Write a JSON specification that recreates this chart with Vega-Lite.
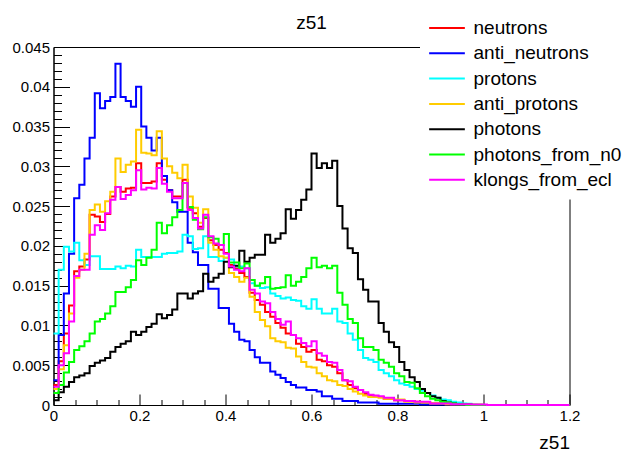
{
  "$schema": "https://vega.github.io/schema/vega-lite/v6.json",
  "width": 516,
  "height": 358,
  "autosize": "none",
  "padding": {"left": 53.5, "top": 47, "right": 58.5, "bottom": 47},
  "config": {
    "font": "Liberation Sans",
    "view": {"stroke": "black", "strokeWidth": 1},
    "axis": {"grid": false, "domainColor": "black", "tickColor": "black", "labelColor": "black", "titleColor": "black", "domainWidth": 1, "tickWidth": 1}
  },
  "title": {"text": "z51", "fontSize": 19, "fontWeight": "normal", "font": "Liberation Sans", "color": "black", "anchor": "middle", "frame": "group", "baseline": "alphabetic", "offset": -38.5},
  "datasets": {
    "n": [{"x":0,"v":0.0025},{"x":0.012,"v":0.0055},{"x":0.024,"v":0.009},{"x":0.036,"v":0.0125},{"x":0.048,"v":0.0168},{"x":0.06,"v":0.0174},{"x":0.072,"v":0.0183},{"x":0.084,"v":0.0239},{"x":0.096,"v":0.0237},{"x":0.108,"v":0.023},{"x":0.12,"v":0.024},{"x":0.132,"v":0.0262},{"x":0.144,"v":0.0274},{"x":0.156,"v":0.0268},{"x":0.168,"v":0.0272},{"x":0.18,"v":0.0273},{"x":0.192,"v":0.0304},{"x":0.204,"v":0.0279},{"x":0.228,"v":0.0281},{"x":0.24,"v":0.0304},{"x":0.252,"v":0.0283},{"x":0.264,"v":0.027},{"x":0.276,"v":0.0262},{"x":0.3,"v":0.0283},{"x":0.312,"v":0.0248},{"x":0.324,"v":0.0241},{"x":0.336,"v":0.0224},{"x":0.348,"v":0.0235},{"x":0.36,"v":0.0207},{"x":0.372,"v":0.0201},{"x":0.384,"v":0.0195},{"x":0.396,"v":0.0191},{"x":0.408,"v":0.0176},{"x":0.42,"v":0.0172},{"x":0.432,"v":0.0166},{"x":0.444,"v":0.0161},{"x":0.456,"v":0.0141},{"x":0.468,"v":0.0132},{"x":0.48,"v":0.0126},{"x":0.492,"v":0.0117},{"x":0.504,"v":0.0111},{"x":0.516,"v":0.0103},{"x":0.528,"v":0.0097},{"x":0.54,"v":0.009},{"x":0.552,"v":0.0088},{"x":0.564,"v":0.0077},{"x":0.576,"v":0.0073},{"x":0.588,"v":0.0067},{"x":0.6,"v":0.0069},{"x":0.612,"v":0.0057},{"x":0.624,"v":0.0055},{"x":0.636,"v":0.005},{"x":0.648,"v":0.0048},{"x":0.66,"v":0.004},{"x":0.672,"v":0.0031},{"x":0.684,"v":0.0025},{"x":0.696,"v":0.0021},{"x":0.708,"v":0.0019},{"x":0.72,"v":0.0014},{"x":0.732,"v":0.0012},{"x":0.744,"v":0.001},{"x":0.768,"v":0.0008},{"x":0.792,"v":0.0006},{"x":0.816,"v":0.0005},{"x":0.84,"v":0.0004},{"x":0.852,"v":0.0003},{"x":0.876,"v":0.0002},{"x":0.912,"v":0.0001},{"x":0.948,"v":0.00005},{"x":0.972,"v":0},{"x":1.2,"v":0}],
    "an": [{"x":0,"v":0.0031},{"x":0.012,"v":0.0088},{"x":0.024,"v":0.014},{"x":0.036,"v":0.019},{"x":0.048,"v":0.026},{"x":0.06,"v":0.0277},{"x":0.072,"v":0.031},{"x":0.084,"v":0.0336},{"x":0.096,"v":0.0392},{"x":0.108,"v":0.0373},{"x":0.12,"v":0.0382},{"x":0.132,"v":0.0387},{"x":0.144,"v":0.0429},{"x":0.156,"v":0.0387},{"x":0.168,"v":0.0382},{"x":0.18,"v":0.0375},{"x":0.192,"v":0.04},{"x":0.204,"v":0.035},{"x":0.216,"v":0.0336},{"x":0.228,"v":0.032},{"x":0.24,"v":0.0336},{"x":0.252,"v":0.0288},{"x":0.264,"v":0.027},{"x":0.276,"v":0.0255},{"x":0.288,"v":0.0243},{"x":0.312,"v":0.0204},{"x":0.324,"v":0.0192},{"x":0.336,"v":0.0176},{"x":0.36,"v":0.0146},{"x":0.384,"v":0.0122},{"x":0.408,"v":0.0102},{"x":0.42,"v":0.0092},{"x":0.432,"v":0.0082},{"x":0.444,"v":0.008},{"x":0.456,"v":0.0069},{"x":0.468,"v":0.006},{"x":0.48,"v":0.0053},{"x":0.504,"v":0.0042},{"x":0.516,"v":0.0038},{"x":0.528,"v":0.0034},{"x":0.54,"v":0.0029},{"x":0.552,"v":0.0025},{"x":0.564,"v":0.0022},{"x":0.588,"v":0.0019},{"x":0.612,"v":0.0017},{"x":0.624,"v":0.0011},{"x":0.648,"v":0.0008},{"x":0.672,"v":0.0005},{"x":0.708,"v":0.0003},{"x":0.756,"v":0.00015},{"x":0.852,"v":0.00005},{"x":0.948,"v":0},{"x":1.2,"v":0}],
    "p": [{"x":0,"v":0.009},{"x":0.012,"v":0.017},{"x":0.024,"v":0.0199},{"x":0.036,"v":0.0193},{"x":0.048,"v":0.0204},{"x":0.06,"v":0.0182},{"x":0.072,"v":0.0176},{"x":0.084,"v":0.0187},{"x":0.108,"v":0.0171},{"x":0.144,"v":0.0174},{"x":0.156,"v":0.0172},{"x":0.168,"v":0.0175},{"x":0.18,"v":0.0174},{"x":0.192,"v":0.0195},{"x":0.204,"v":0.0186},{"x":0.252,"v":0.019},{"x":0.264,"v":0.0191},{"x":0.288,"v":0.0193},{"x":0.3,"v":0.0214},{"x":0.312,"v":0.0212},{"x":0.324,"v":0.0196},{"x":0.336,"v":0.0197},{"x":0.348,"v":0.0212},{"x":0.36,"v":0.0186},{"x":0.384,"v":0.0181},{"x":0.396,"v":0.0185},{"x":0.408,"v":0.0183},{"x":0.42,"v":0.0174},{"x":0.444,"v":0.0172},{"x":0.456,"v":0.0153},{"x":0.468,"v":0.015},{"x":0.48,"v":0.0147},{"x":0.492,"v":0.0148},{"x":0.504,"v":0.014},{"x":0.516,"v":0.0137},{"x":0.528,"v":0.0134},{"x":0.54,"v":0.0135},{"x":0.552,"v":0.0132},{"x":0.564,"v":0.0131},{"x":0.576,"v":0.0124},{"x":0.588,"v":0.0121},{"x":0.6,"v":0.0133},{"x":0.612,"v":0.0121},{"x":0.624,"v":0.0115},{"x":0.648,"v":0.0121},{"x":0.66,"v":0.0105},{"x":0.672,"v":0.0103},{"x":0.684,"v":0.009},{"x":0.696,"v":0.0082},{"x":0.708,"v":0.0069},{"x":0.72,"v":0.0059},{"x":0.732,"v":0.0057},{"x":0.744,"v":0.0054},{"x":0.756,"v":0.0044},{"x":0.768,"v":0.004},{"x":0.78,"v":0.0036},{"x":0.792,"v":0.0031},{"x":0.804,"v":0.0027},{"x":0.816,"v":0.0025},{"x":0.828,"v":0.0023},{"x":0.84,"v":0.002},{"x":0.852,"v":0.0018},{"x":0.864,"v":0.0015},{"x":0.876,"v":0.0012},{"x":0.888,"v":0.0009},{"x":0.9,"v":0.0007},{"x":0.912,"v":0.0006},{"x":0.924,"v":0.0004},{"x":0.936,"v":0.0003},{"x":0.948,"v":0.0002},{"x":0.96,"v":0.00015},{"x":0.972,"v":0.0001},{"x":0.984,"v":0.00005},{"x":0.996,"v":0},{"x":1.2,"v":0}],
    "ap": [{"x":0,"v":0.002},{"x":0.012,"v":0.0045},{"x":0.024,"v":0.0075},{"x":0.036,"v":0.0115},{"x":0.048,"v":0.016},{"x":0.06,"v":0.017},{"x":0.072,"v":0.019},{"x":0.084,"v":0.0245},{"x":0.096,"v":0.0252},{"x":0.108,"v":0.0243},{"x":0.12,"v":0.0256},{"x":0.132,"v":0.0268},{"x":0.144,"v":0.031},{"x":0.156,"v":0.0293},{"x":0.168,"v":0.0302},{"x":0.18,"v":0.0306},{"x":0.192,"v":0.0346},{"x":0.204,"v":0.0317},{"x":0.216,"v":0.0316},{"x":0.228,"v":0.0314},{"x":0.24,"v":0.0344},{"x":0.252,"v":0.031},{"x":0.264,"v":0.03},{"x":0.276,"v":0.0292},{"x":0.288,"v":0.0285},{"x":0.3,"v":0.0302},{"x":0.312,"v":0.0262},{"x":0.324,"v":0.0248},{"x":0.336,"v":0.0229},{"x":0.348,"v":0.0246},{"x":0.36,"v":0.0204},{"x":0.372,"v":0.0195},{"x":0.384,"v":0.0187},{"x":0.396,"v":0.0185},{"x":0.408,"v":0.0166},{"x":0.42,"v":0.0161},{"x":0.432,"v":0.0155},{"x":0.444,"v":0.016},{"x":0.456,"v":0.0136},{"x":0.468,"v":0.0117},{"x":0.48,"v":0.0107},{"x":0.492,"v":0.0099},{"x":0.504,"v":0.0084},{"x":0.516,"v":0.008},{"x":0.528,"v":0.0079},{"x":0.54,"v":0.0072},{"x":0.552,"v":0.0071},{"x":0.564,"v":0.0061},{"x":0.576,"v":0.0054},{"x":0.588,"v":0.0048},{"x":0.6,"v":0.0047},{"x":0.612,"v":0.004},{"x":0.624,"v":0.0036},{"x":0.636,"v":0.0031},{"x":0.648,"v":0.003},{"x":0.66,"v":0.0025},{"x":0.672,"v":0.0024},{"x":0.684,"v":0.002},{"x":0.696,"v":0.0017},{"x":0.708,"v":0.0014},{"x":0.72,"v":0.0012},{"x":0.732,"v":0.001},{"x":0.756,"v":0.0009},{"x":0.768,"v":0.0008},{"x":0.792,"v":0.0007},{"x":0.816,"v":0.0004},{"x":0.84,"v":0.0003},{"x":0.876,"v":0.0002},{"x":0.912,"v":0.0001},{"x":0.96,"v":0.00005},{"x":0.996,"v":0},{"x":1.2,"v":0}],
    "ph": [{"x":0,"v":0.0006},{"x":0.012,"v":0.0016},{"x":0.024,"v":0.0023},{"x":0.036,"v":0.0029},{"x":0.048,"v":0.0035},{"x":0.06,"v":0.0037},{"x":0.072,"v":0.004},{"x":0.084,"v":0.0049},{"x":0.096,"v":0.0053},{"x":0.108,"v":0.0056},{"x":0.12,"v":0.0059},{"x":0.132,"v":0.0067},{"x":0.144,"v":0.0073},{"x":0.156,"v":0.0077},{"x":0.168,"v":0.008},{"x":0.18,"v":0.0092},{"x":0.192,"v":0.0088},{"x":0.204,"v":0.0092},{"x":0.216,"v":0.0098},{"x":0.228,"v":0.0102},{"x":0.24,"v":0.0114},{"x":0.252,"v":0.0109},{"x":0.264,"v":0.0113},{"x":0.276,"v":0.012},{"x":0.288,"v":0.014},{"x":0.312,"v":0.0134},{"x":0.324,"v":0.014},{"x":0.336,"v":0.0143},{"x":0.348,"v":0.0165},{"x":0.36,"v":0.0155},{"x":0.372,"v":0.016},{"x":0.384,"v":0.0165},{"x":0.396,"v":0.018},{"x":0.408,"v":0.0173},{"x":0.42,"v":0.0175},{"x":0.432,"v":0.0194},{"x":0.444,"v":0.018},{"x":0.456,"v":0.0185},{"x":0.468,"v":0.0189},{"x":0.492,"v":0.0214},{"x":0.504,"v":0.0204},{"x":0.516,"v":0.0209},{"x":0.528,"v":0.0216},{"x":0.54,"v":0.0246},{"x":0.552,"v":0.0234},{"x":0.564,"v":0.0245},{"x":0.576,"v":0.0258},{"x":0.588,"v":0.0271},{"x":0.6,"v":0.0316},{"x":0.612,"v":0.0298},{"x":0.624,"v":0.0304},{"x":0.636,"v":0.0298},{"x":0.648,"v":0.0307},{"x":0.66,"v":0.025},{"x":0.672,"v":0.0222},{"x":0.684,"v":0.0197},{"x":0.696,"v":0.0191},{"x":0.708,"v":0.0158},{"x":0.72,"v":0.0145},{"x":0.732,"v":0.013},{"x":0.756,"v":0.0103},{"x":0.768,"v":0.0092},{"x":0.78,"v":0.0079},{"x":0.792,"v":0.0073},{"x":0.804,"v":0.0054},{"x":0.816,"v":0.0044},{"x":0.828,"v":0.0035},{"x":0.84,"v":0.0029},{"x":0.852,"v":0.002},{"x":0.864,"v":0.0015},{"x":0.876,"v":0.0011},{"x":0.888,"v":0.0009},{"x":0.9,"v":0.0005},{"x":0.912,"v":0.0003},{"x":0.924,"v":0.0002},{"x":0.936,"v":0.0001},{"x":0.948,"v":0.00005},{"x":0.972,"v":0},{"x":1.2,"v":0}],
    "pn": [{"x":0,"v":0.0015},{"x":0.012,"v":0.0025},{"x":0.024,"v":0.0041},{"x":0.036,"v":0.0054},{"x":0.048,"v":0.0069},{"x":0.06,"v":0.0074},{"x":0.072,"v":0.008},{"x":0.084,"v":0.009},{"x":0.096,"v":0.0105},{"x":0.108,"v":0.0108},{"x":0.12,"v":0.0115},{"x":0.132,"v":0.0124},{"x":0.144,"v":0.0142},{"x":0.168,"v":0.0148},{"x":0.18,"v":0.0157},{"x":0.192,"v":0.0182},{"x":0.204,"v":0.0176},{"x":0.216,"v":0.0185},{"x":0.228,"v":0.0195},{"x":0.24,"v":0.0229},{"x":0.252,"v":0.0216},{"x":0.264,"v":0.0226},{"x":0.276,"v":0.0236},{"x":0.288,"v":0.0245},{"x":0.3,"v":0.0279},{"x":0.312,"v":0.0249},{"x":0.324,"v":0.0233},{"x":0.336,"v":0.0221},{"x":0.348,"v":0.0236},{"x":0.36,"v":0.0211},{"x":0.372,"v":0.0209},{"x":0.384,"v":0.0201},{"x":0.396,"v":0.0215},{"x":0.408,"v":0.0179},{"x":0.432,"v":0.0172},{"x":0.444,"v":0.0178},{"x":0.456,"v":0.0157},{"x":0.468,"v":0.015},{"x":0.48,"v":0.0153},{"x":0.492,"v":0.0161},{"x":0.504,"v":0.0146},{"x":0.516,"v":0.0147},{"x":0.528,"v":0.0148},{"x":0.54,"v":0.0163},{"x":0.552,"v":0.015},{"x":0.564,"v":0.0155},{"x":0.576,"v":0.0161},{"x":0.588,"v":0.0172},{"x":0.6,"v":0.0185},{"x":0.612,"v":0.0173},{"x":0.624,"v":0.0175},{"x":0.636,"v":0.0172},{"x":0.648,"v":0.0175},{"x":0.66,"v":0.0141},{"x":0.672,"v":0.0126},{"x":0.684,"v":0.0108},{"x":0.696,"v":0.0103},{"x":0.708,"v":0.0084},{"x":0.72,"v":0.0073},{"x":0.744,"v":0.0069},{"x":0.756,"v":0.0057},{"x":0.768,"v":0.0053},{"x":0.78,"v":0.0048},{"x":0.792,"v":0.004},{"x":0.804,"v":0.0036},{"x":0.816,"v":0.0029},{"x":0.828,"v":0.0028},{"x":0.84,"v":0.0021},{"x":0.852,"v":0.0015},{"x":0.864,"v":0.0011},{"x":0.876,"v":0.0008},{"x":0.888,"v":0.0006},{"x":0.9,"v":0.0004},{"x":0.912,"v":0.0003},{"x":0.924,"v":0.0002},{"x":0.936,"v":0.0001},{"x":0.948,"v":0.00005},{"x":0.96,"v":0},{"x":1.2,"v":0}],
    "kl": [{"x":0,"v":0.0023},{"x":0.012,"v":0.005},{"x":0.024,"v":0.0065},{"x":0.036,"v":0.0105},{"x":0.048,"v":0.0162},{"x":0.06,"v":0.017},{"x":0.084,"v":0.0214},{"x":0.096,"v":0.0226},{"x":0.108,"v":0.022},{"x":0.12,"v":0.0241},{"x":0.132,"v":0.0258},{"x":0.144,"v":0.0274},{"x":0.156,"v":0.0259},{"x":0.168,"v":0.0264},{"x":0.18,"v":0.027},{"x":0.192,"v":0.0295},{"x":0.204,"v":0.0271},{"x":0.216,"v":0.0273},{"x":0.228,"v":0.0272},{"x":0.24,"v":0.0298},{"x":0.252,"v":0.0278},{"x":0.264,"v":0.0268},{"x":0.276,"v":0.026},{"x":0.3,"v":0.0279},{"x":0.312,"v":0.0245},{"x":0.324,"v":0.0235},{"x":0.336,"v":0.0222},{"x":0.348,"v":0.0239},{"x":0.36,"v":0.0212},{"x":0.372,"v":0.0203},{"x":0.384,"v":0.0201},{"x":0.396,"v":0.019},{"x":0.408,"v":0.0174},{"x":0.42,"v":0.017},{"x":0.432,"v":0.0168},{"x":0.444,"v":0.0172},{"x":0.456,"v":0.0145},{"x":0.468,"v":0.014},{"x":0.48,"v":0.013},{"x":0.492,"v":0.0128},{"x":0.504,"v":0.0117},{"x":0.516,"v":0.0108},{"x":0.528,"v":0.0101},{"x":0.54,"v":0.0105},{"x":0.552,"v":0.0088},{"x":0.564,"v":0.0084},{"x":0.576,"v":0.0078},{"x":0.588,"v":0.0074},{"x":0.6,"v":0.008},{"x":0.612,"v":0.0065},{"x":0.624,"v":0.0062},{"x":0.636,"v":0.0054},{"x":0.648,"v":0.0053},{"x":0.66,"v":0.0044},{"x":0.672,"v":0.0031},{"x":0.684,"v":0.003},{"x":0.696,"v":0.0023},{"x":0.708,"v":0.0019},{"x":0.72,"v":0.0016},{"x":0.732,"v":0.0013},{"x":0.744,"v":0.0012},{"x":0.756,"v":0.0011},{"x":0.768,"v":0.0009},{"x":0.792,"v":0.0006},{"x":0.816,"v":0.0005},{"x":0.84,"v":0.0004},{"x":0.876,"v":0.0002},{"x":0.924,"v":0.0001},{"x":0.972,"v":0.00005},{"x":1.008,"v":0},{"x":1.2,"v":0}]
  },
  "layer": [
    {
      "data": {"name": "n"},
      "mark": {"type": "line", "interpolate": "step-after", "strokeWidth": 2},
      "encoding": {
        "x": {"field": "x", "type": "quantitative", "scale": {"domain": [0, 1.2], "nice": false, "zero": false},
          "axis": {"orient": "bottom", "values": [0, 0.2, 0.4, 0.6, 0.8, 1, 1.2], "format": "~g", "ticks": false, "domain": true, "labelFontSize": 15, "labelPadding": 3, "labelFlush": false, "labelOverlap": false, "title": "z51", "titleAnchor": "end", "titleAlign": "right", "titleBaseline": "top", "titleY": 28, "titleFontSize": 19, "titleFontWeight": "normal"}},
        "y": {"field": "v", "type": "quantitative", "scale": {"domain": [0, 0.045], "nice": false},
          "axis": {"orient": "left", "values": [0, 0.005, 0.01, 0.015, 0.02, 0.025, 0.03, 0.035, 0.04, 0.045], "format": "~g", "ticks": false, "domain": true, "labelFontSize": 15, "labelPadding": 4, "labelFlush": false, "labelOverlap": false, "title": null}},
        "color": {"datum": "neutrons", "type": "nominal",
          "scale": {"domain": ["neutrons", "anti_neutrons", "protons", "anti_protons", "photons", "photons_from_n0", "klongs_from_ecl"], "range": ["#ff0000", "#0000ff", "#00ffff", "#ffcc00", "#000000", "#00ff00", "#ff00ff"]},
          "legend": {"orient": "none", "legendX": 366.5, "legendY": -37.5, "title": null, "symbolType": "M-2.1,0L2.1,0", "symbolSize": 289, "symbolStrokeWidth": 2, "symbolOffset": 8.5, "labelFontSize": 19, "labelColor": "black", "labelOffset": 17, "labelLimit": 400, "fillColor": "white", "padding": 9, "rowPadding": 5.3}}
      }
    },
    {
      "data": {"name": "an"},
      "mark": {"type": "line", "interpolate": "step-after", "strokeWidth": 2},
      "encoding": {
        "x": {"field": "x", "type": "quantitative", "scale": {"domain": [0, 1.2], "nice": false, "zero": false},
          "axis": {"orient": "bottom", "offset": -11, "values": [0, 0.2, 0.4, 0.6, 0.8, 1, 1.2], "ticks": true, "tickSize": 11, "labels": false, "domain": false, "title": null}},
        "y": {"field": "v", "type": "quantitative", "scale": {"domain": [0, 0.045], "nice": false},
          "axis": {"orient": "left", "offset": -16, "values": [0, 0.005, 0.01, 0.015, 0.02, 0.025, 0.03, 0.035, 0.04, 0.045], "ticks": true, "tickSize": 16, "labels": false, "domain": false, "title": null}},
        "color": {"datum": "anti_neutrons", "type": "nominal"}
      }
    },
    {
      "data": {"name": "p"},
      "mark": {"type": "line", "interpolate": "step-after", "strokeWidth": 2},
      "encoding": {
        "x": {"field": "x", "type": "quantitative", "scale": {"domain": [0, 1.2], "nice": false, "zero": false},
          "axis": {"orient": "bottom", "offset": -5.5, "values": [0.05, 0.1, 0.15, 0.25, 0.3, 0.35, 0.45, 0.5, 0.55, 0.65, 0.7, 0.75, 0.85, 0.9, 0.95, 1.05, 1.1, 1.15], "ticks": true, "tickSize": 5.5, "labels": false, "domain": false, "title": null}},
        "y": {"field": "v", "type": "quantitative", "scale": {"domain": [0, 0.045], "nice": false},
          "axis": {"orient": "left", "offset": -8, "values": [0.001, 0.002, 0.003, 0.004, 0.006, 0.007, 0.008, 0.009, 0.011, 0.012, 0.013, 0.014, 0.016, 0.017, 0.018, 0.019, 0.021, 0.022, 0.023, 0.024, 0.026, 0.027, 0.028, 0.029, 0.031, 0.032, 0.033, 0.034, 0.036, 0.037, 0.038, 0.039, 0.041, 0.042, 0.043, 0.044], "ticks": true, "tickSize": 8, "labels": false, "domain": false, "title": null}},
        "color": {"datum": "protons", "type": "nominal"}
      }
    },
    {
      "data": {"name": "ap"},
      "mark": {"type": "line", "interpolate": "step-after", "strokeWidth": 2},
      "encoding": {
        "x": {"field": "x", "type": "quantitative", "axis": null},
        "y": {"field": "v", "type": "quantitative", "axis": null},
        "color": {"datum": "anti_protons", "type": "nominal"}
      }
    },
    {
      "data": {"name": "ph"},
      "mark": {"type": "line", "interpolate": "step-after", "strokeWidth": 2},
      "encoding": {
        "x": {"field": "x", "type": "quantitative", "axis": null},
        "y": {"field": "v", "type": "quantitative", "axis": null},
        "color": {"datum": "photons", "type": "nominal"}
      }
    },
    {
      "data": {"name": "pn"},
      "mark": {"type": "line", "interpolate": "step-after", "strokeWidth": 2},
      "encoding": {
        "x": {"field": "x", "type": "quantitative", "axis": null},
        "y": {"field": "v", "type": "quantitative", "axis": null},
        "color": {"datum": "photons_from_n0", "type": "nominal"}
      }
    },
    {
      "data": {"name": "kl"},
      "mark": {"type": "line", "interpolate": "step-after", "strokeWidth": 2},
      "encoding": {
        "x": {"field": "x", "type": "quantitative", "axis": null},
        "y": {"field": "v", "type": "quantitative", "axis": null},
        "color": {"datum": "klongs_from_ecl", "type": "nominal"}
      }
    }
  ],
  "resolve": {"axis": {"x": "independent", "y": "independent"}}
}
